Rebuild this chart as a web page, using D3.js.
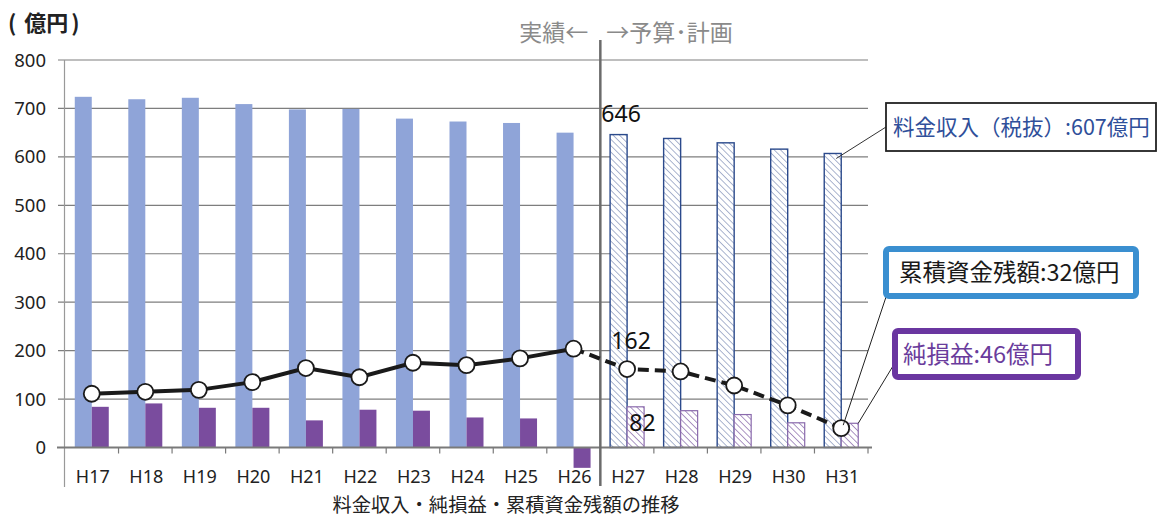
<!DOCTYPE html>
<html>
<head>
<meta charset="utf-8">
<script src="https://cdn.jsdelivr.net/npm/d3@7"></script>
<style>
  body { margin: 0; background: #fff; }
  svg { display: block; }
  text { font-family: "Noto Sans CJK JP", "Noto Sans", sans-serif; }
</style>
</head>
<body>
<div id="chart"></div>
<script>
// data (億円)
var years = ["H17", "H18", "H19", "H20", "H21", "H22", "H23", "H24", "H25", "H26", "H27", "H28", "H29", "H30", "H31"];
var revenue = [724, 719, 722, 709, 698, 699, 679, 673, 670, 650, 646, 638, 629, 616, 607];
var netIncome = [84, 91, 82, 82, 56, 78, 76, 62, 60, -42, 84, 76, 68, 51, 50];
var fundBalance = [111, 115, 119, 135, 164, 145, 175, 170, 184, 204, 162, 157, 128, 87, 40];
var yTicks = [0, 100, 200, 300, 400, 500, 600, 700, 800];
var actualCount = 10; // H17-H26 actual, H27- plan

var W = 1162, H = 518;
var svg = d3.select("#chart").append("svg")
    .attr("width", W)
    .attr("height", H);

var defs = svg.append("defs");
function hatch(id, color) {
    var p = defs.append("pattern")
        .attr("id", id)
        .attr("patternUnits", "userSpaceOnUse")
        .attr("width", 4.5)
        .attr("height", 4.5)
        .attr("patternTransform", "rotate(-45)");
    p.append("rect").attr("width", 4.5).attr("height", 4.5).attr("fill", "#fff");
    p.append("line")
        .attr("x1", 0).attr("y1", 0).attr("x2", 0).attr("y2", 4.5)
        .attr("stroke", color).attr("stroke-width", 1.3);
}
hatch("hatchBlue", "#7d8db5");
hatch("hatchPurple", "#7f5ca3");

var x = d3.scaleBand().domain(years).range([65, 868]).padding(0);
var series = d3.scaleBand().domain(["rev", "net"]).range([0, 34]);
var y = d3.scaleLinear().domain([0, 800]).range([447.5, 60]);

function groupX(d) { return x(d) + x.bandwidth() / 2 - 17; }

// grid
svg.append("g")
    .selectAll("line")
    .data(yTicks.slice(1))
    .join("line")
    .attr("x1", 58).attr("x2", 868)
    .attr("y1", function (d) { return y(d); })
    .attr("y2", function (d) { return y(d); })
    .attr("stroke", "#7e7e7e")
    .attr("stroke-width", 1.2);

// y labels
svg.append("g")
    .selectAll("text")
    .data(yTicks)
    .join("text")
    .attr("x", 46)
    .attr("y", function (d) { return y(d) + 6.5; })
    .attr("text-anchor", "end")
    .attr("font-size", 18.5)
    .attr("fill", "#222")
    .style("font-family", "'Noto Sans', sans-serif")
    .text(function (d) { return d; });

// left axis line
svg.append("line")
    .attr("x1", 64.5).attr("x2", 64.5)
    .attr("y1", y(800)).attr("y2", 487)
    .attr("stroke", "#999").attr("stroke-width", 1.2);

// revenue bars
svg.append("g")
    .selectAll("rect")
    .data(years)
    .join("rect")
    .attr("x", function (d) { return groupX(d) + series("rev"); })
    .attr("width", series.bandwidth())
    .attr("y", function (d, i) { return y(revenue[i]); })
    .attr("height", function (d, i) { return y(0) - y(revenue[i]); })
    .attr("fill", function (d, i) { return i < actualCount ? "#8fa4d8" : "url(#hatchBlue)"; })
    .attr("stroke", function (d, i) { return i < actualCount ? "none" : "#2b4a8c"; })
    .attr("stroke-width", 1.4);

// net income bars
svg.append("g")
    .selectAll("rect")
    .data(years)
    .join("rect")
    .attr("x", function (d) { return groupX(d) + series("net"); })
    .attr("width", series.bandwidth())
    .attr("y", function (d, i) { return y(Math.max(0, netIncome[i])); })
    .attr("height", function (d, i) { return Math.abs(y(netIncome[i]) - y(0)); })
    .attr("fill", function (d, i) { return i < actualCount ? "#7a4c9e" : "url(#hatchPurple)"; })
    .attr("stroke", function (d, i) { return i < actualCount ? "none" : "#8a6aac"; })
    .attr("stroke-width", 1.2);

// x axis
svg.append("line")
    .attr("x1", 57).attr("x2", 872)
    .attr("y1", y(0)).attr("y2", y(0))
    .attr("stroke", "#7a7a7a").attr("stroke-width", 2);
svg.append("g")
    .selectAll("line")
    .data(years.slice(1).concat(["end"]))
    .join("line")
    .attr("x1", function (d) { return d == "end" ? 868 : x(d); })
    .attr("x2", function (d) { return d == "end" ? 868 : x(d); })
    .attr("y1", y(0)).attr("y2", y(0) + 6)
    .attr("stroke", "#7a7a7a").attr("stroke-width", 1.2);
svg.append("g")
    .selectAll("text")
    .data(years)
    .join("text")
    .attr("x", function (d) { return x(d) + x.bandwidth() / 2 + 1; })
    .attr("y", 482.5)
    .attr("text-anchor", "middle")
    .attr("font-size", 18)
    .attr("fill", "#222")
    .style("font-family", "'Noto Sans', sans-serif")
    .text(function (d) { return d; });

// divider between actual and plan
var divX = x(years[actualCount]);
svg.append("line")
    .attr("x1", divX).attr("x2", divX)
    .attr("y1", 40).attr("y2", 486)
    .attr("stroke", "#6b6b6b").attr("stroke-width", 2.5);
svg.append("text")
    .attr("x", divX - 12).attr("y", 41)
    .attr("text-anchor", "end")
    .attr("font-size", 23)
    .attr("fill", "#8a8a8a")
    .text("実績←");
svg.append("text")
    .attr("x", divX + 6).attr("y", 41)
    .attr("font-size", 23)
    .attr("fill", "#8a8a8a")
    .text("→予算･計画");

// fund balance line
var line = d3.line()
    .x(function (d, i) { return x(d.year) + x.bandwidth() / 2; })
    .y(function (d) { return y(d.v); });
var pts = years.map(function (d, i) { return { year: d, v: fundBalance[i] }; });
svg.append("path")
    .datum(pts.slice(0, actualCount))
    .attr("fill", "none")
    .attr("stroke", "#1a1a1a")
    .attr("stroke-width", 4)
    .attr("d", line);
svg.append("path")
    .datum(pts.slice(actualCount - 1))
    .attr("fill", "none")
    .attr("stroke", "#1a1a1a")
    .attr("stroke-width", 4)
    .attr("stroke-dasharray", "11,6")
    .attr("d", line);
svg.append("g")
    .selectAll("circle")
    .data(pts)
    .join("circle")
    .attr("cx", function (d) { return x(d.year) + x.bandwidth() / 2; })
    .attr("cy", function (d) { return y(d.v); })
    .attr("r", 8)
    .attr("fill", "#fff")
    .attr("stroke", "#1a1a1a")
    .attr("stroke-width", 1.8);

// data labels for H27
var k = actualCount;
svg.append("text")
    .attr("x", x(years[k]) + 1).attr("y", y(revenue[k]) - 13)
    .attr("font-size", 23).attr("fill", "#111")
    .style("font-family", "'Noto Sans', sans-serif")
    .text(revenue[k]);
svg.append("text")
    .attr("x", x(years[k]) + 11).attr("y", y(fundBalance[k]) - 20)
    .attr("font-size", 23).attr("fill", "#111")
    .style("font-family", "'Noto Sans', sans-serif")
    .text(fundBalance[k]);
svg.append("text")
    .attr("x", x(years[k]) + 29).attr("y", y(netIncome[k]) + 24)
    .attr("font-size", 23).attr("fill", "#111")
    .style("font-family", "'Noto Sans', sans-serif")
    .text(82);

// callout boxes
var last = years.length - 1;
var cx = x(years[last]) + x.bandwidth() / 2;

// revenue callout
svg.append("line")
    .attr("x1", 886).attr("y1", 127)
    .attr("x2", groupX(years[last]) + series("rev") + 12).attr("y2", y(revenue[last]) + 5)
    .attr("stroke", "#333").attr("stroke-width", 1);
svg.append("rect")
    .attr("x", 886).attr("y", 103).attr("width", 270).attr("height", 48)
    .attr("fill", "#fff").attr("stroke", "#222").attr("stroke-width", 1.8);
svg.append("text")
    .attr("x", 893).attr("y", 135)
    .attr("font-size", 21.5).attr("fill", "#2f4f9a")
    .text("料金収入（税抜）:607億円");

// fund balance callout
svg.append("line")
    .attr("x1", 886).attr("y1", 297)
    .attr("x2", cx + 2).attr("y2", y(fundBalance[last]) - 3)
    .attr("stroke", "#222").attr("stroke-width", 1);
svg.append("rect")
    .attr("x", 886).attr("y", 249).attr("width", 250).attr("height", 47)
    .attr("rx", 3)
    .attr("fill", "#fff").attr("stroke", "#3a8fd0").attr("stroke-width", 6);
svg.append("text")
    .attr("x", 899).attr("y", 281)
    .attr("font-size", 23.5).attr("fill", "#1a1a1a")
    .text("累積資金残額:32億円");

// net income callout
svg.append("line")
    .attr("x1", 893).attr("y1", 366)
    .attr("x2", groupX(years[last]) + 34).attr("y2", y(netIncome[last]))
    .attr("stroke", "#222").attr("stroke-width", 1);
svg.append("rect")
    .attr("x", 895).attr("y", 331).attr("width", 183).attr("height", 46)
    .attr("rx", 3)
    .attr("fill", "#fff").attr("stroke", "#6a36a0").attr("stroke-width", 6);
svg.append("text")
    .attr("x", 903).attr("y", 363)
    .attr("font-size", 23.5).attr("fill", "#6a3c9c")
    .text("純損益:46億円");

// unit + title
var unit = svg.append("text")
    .attr("x", 8).attr("y", 31)
    .attr("font-size", 22).attr("font-weight", "bold").attr("fill", "#222");
unit.append("tspan").text("(");
unit.append("tspan").attr("dx", 8).text("億円");
unit.append("tspan").attr("dx", 3).text(")");
svg.append("text")
    .attr("x", 506).attr("y", 512)
    .attr("text-anchor", "middle")
    .attr("font-size", 19.3).attr("fill", "#222")
    .text("料金収入・純損益・累積資金残額の推移");
</script>
</body>
</html>
